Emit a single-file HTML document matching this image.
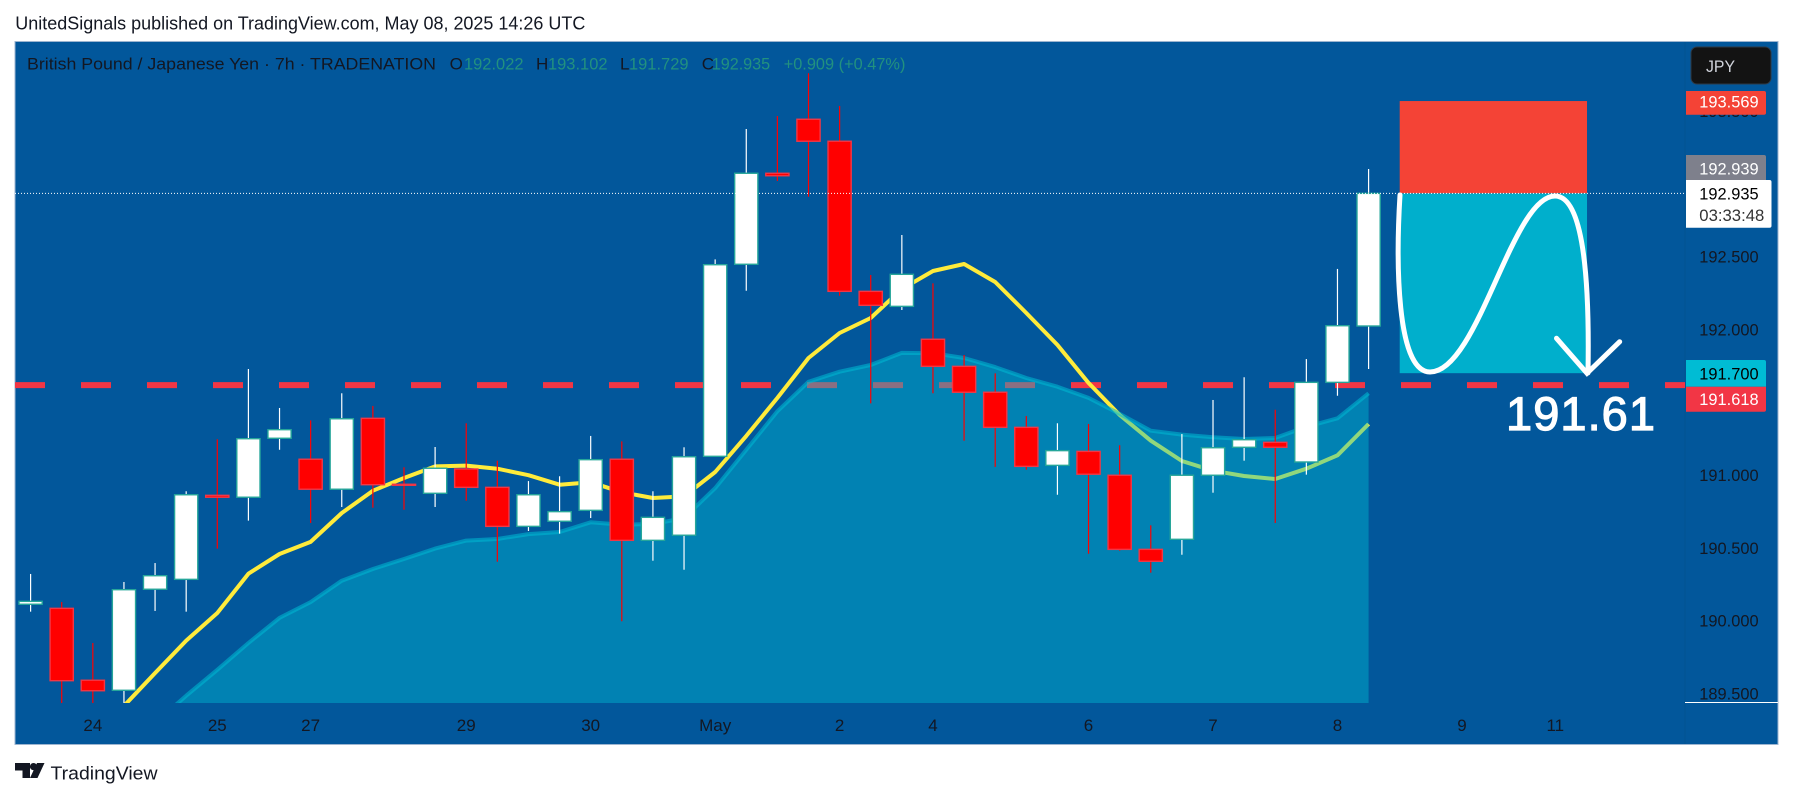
<!DOCTYPE html>
<html lang="en">
<head>
<meta charset="utf-8">
<title>GBP/JPY chart</title>
<style>
html,body{margin:0;padding:0;background:#fff;width:1793px;height:798px;overflow:hidden}
svg{display:block}
text{font-family:"Liberation Sans",sans-serif}
</style>
</head>
<body>
<svg id="chart" xmlns="http://www.w3.org/2000/svg" width="1793" height="798" viewBox="0 0 1793 798">
  <defs>
    <clipPath id="plot-clip"><rect x="15" y="41" width="1670" height="662"/></clipPath>
  </defs>
  <rect x="0" y="0" width="1793" height="798" fill="#ffffff"/>
  <text x="15.3" y="29.5" font-size="18" fill="#131722" textLength="570" lengthAdjust="spacingAndGlyphs">UnitedSignals published on TradingView.com, May 08, 2025 14:26 UTC</text>
  <rect x="15" y="41.5" width="1763" height="703" fill="#02579b" stroke="#9db5d0" stroke-width="1"/>
  <line x1="1685" y1="42" x2="1685" y2="744" stroke="#025392" stroke-width="1"/>
  <line x1="1685" y1="702.5" x2="1778" y2="702.5" stroke="#ffffff" stroke-width="1"/>

  <g id="price-ticks"></g>
  <g id="time-ticks"></g>

  <g clip-path="url(#plot-clip)">
    <g id="position"></g>
    <line id="level-line" x1="15" x2="1685" stroke="#f23645" stroke-width="6" stroke-dasharray="30 36"/>
    <path id="yellow-line" fill="none" stroke="#ffeb3b" stroke-width="4" stroke-linejoin="round"/>
    <path id="area-fill" fill="rgba(0,188,212,0.43)"/>
    <path id="area-line" fill="none" stroke="#00bcd4" stroke-opacity="0.55" stroke-width="4" stroke-linejoin="round"/>
    <g id="candles"></g>
    <line id="last-price-line" x1="15" x2="1685" stroke="#ffffff" stroke-width="1" stroke-dasharray="1 2"/>
    <g>
      <path d="M1400 195 C1396 260 1396 372 1430 372 C1478 372 1512 196 1555 196 C1580 196 1590 260 1588 373" fill="none" stroke="#ffffff" stroke-width="5" stroke-linecap="round"/>
      <path d="M1556.5 338.3 L1587 373.3 L1619.7 341.7" fill="none" stroke="#ffffff" stroke-width="5" stroke-linecap="round" stroke-linejoin="miter"/>
    </g>
    <text x="1506" y="430" font-size="47" fill="#ffffff" stroke="#ffffff" stroke-width="1.2" textLength="149" lengthAdjust="spacing">191.61</text>
  </g>

  <g font-size="17">
    <text x="27" y="69.5" fill="#131722" textLength="409" lengthAdjust="spacingAndGlyphs">British Pound / Japanese Yen · 7h · TRADENATION</text>
    <text x="449.6" y="69.5" fill="#131722">O</text>
    <text x="464" y="69.5" fill="#22917f" textLength="59.5" lengthAdjust="spacingAndGlyphs">192.022</text>
    <text x="536" y="69.5" fill="#131722">H</text>
    <text x="548" y="69.5" fill="#22917f" textLength="59.5" lengthAdjust="spacingAndGlyphs">193.102</text>
    <text x="620" y="69.5" fill="#131722">L</text>
    <text x="629" y="69.5" fill="#22917f" textLength="59.5" lengthAdjust="spacingAndGlyphs">191.729</text>
    <text x="701.8" y="69.5" fill="#131722">C</text>
    <text x="711.7" y="69.5" fill="#22917f" textLength="58.5" lengthAdjust="spacingAndGlyphs">192.935</text>
    <text x="783.7" y="69.5" fill="#22917f" textLength="121.7" lengthAdjust="spacingAndGlyphs">+0.909 (+0.47%)</text>
  </g>

  <g>
    <rect x="1691" y="47" width="80" height="37" rx="6" fill="#131313" stroke="#2e3a46" stroke-width="1"/>
    <text x="1706" y="72" font-size="17" fill="#d1d4dc" textLength="29" lengthAdjust="spacingAndGlyphs">JPY</text>
  </g>

  <g font-size="17">
    <path d="M1686 91H1764a2 2 0 0 1 2 2V112.7a2 2 0 0 1 -2 2H1686z" fill="#f44336"/>
    <text x="1699.3" y="107.5" fill="#ffffff" textLength="59.3" lengthAdjust="spacingAndGlyphs">193.569</text>
    <path d="M1686 155H1764a2 2 0 0 1 2 2V180H1686z" fill="#7e808c"/>
    <text x="1699.3" y="174.5" fill="#ffffff" textLength="59.3" lengthAdjust="spacingAndGlyphs">192.939</text>
    <path d="M1686 180H1769.5a2 2 0 0 1 2 2V225.7a2 2 0 0 1 -2 2H1686z" fill="#ffffff"/>
    <text x="1699.3" y="199.5" fill="#000000" textLength="59.3" lengthAdjust="spacingAndGlyphs">192.935</text>
    <text x="1699.3" y="221" fill="#333333" textLength="65" lengthAdjust="spacingAndGlyphs">03:33:48</text>
    <path d="M1686 360H1764a2 2 0 0 1 2 2V386.7H1686z" fill="#00bcd4"/>
    <text x="1699.3" y="379.5" fill="#000000" textLength="59.3" lengthAdjust="spacingAndGlyphs">191.700</text>
    <path d="M1686 386.7H1766V409.7a2 2 0 0 1 -2 2H1686z" fill="#f23645"/>
    <text x="1699.3" y="405" fill="#ffffff" textLength="59.3" lengthAdjust="spacingAndGlyphs">191.618</text>
  </g>

  <g>
    <path d="M15 763H30V778H22.5V770.5H15Z" fill="#131722"/>
    <circle cx="33.5" cy="766.6" r="3.6" fill="#131722"/>
    <path d="M37 763H44.5L37.5 778H30Z" fill="#131722"/>
    <text x="50.5" y="779.5" font-size="18" fill="#131722" textLength="107" lengthAdjust="spacingAndGlyphs">TradingView</text>
  </g>
</svg>

<script>
// ---- chart data ----
const opens = [190.113,190.085,189.591,189.522,190.216,190.284,190.861,190.848,191.253,191.109,190.903,191.390,190.937,190.875,191.042,190.916,190.648,190.683,190.758,191.109,190.552,190.587,191.129,192.448,193.073,193.444,193.293,192.262,192.159,191.933,191.747,191.569,191.328,191.067,191.163,190.999,190.490,190.559,190.999,191.191,191.225,191.090,191.637,192.024];
const highs = [190.321,190.128,189.847,190.266,190.396,190.889,191.246,191.729,191.461,191.376,191.562,191.475,191.054,191.193,191.356,191.099,190.959,190.992,191.269,191.232,190.889,191.191,192.482,193.377,193.466,193.760,193.535,192.374,192.649,192.317,191.825,191.699,191.406,191.356,191.351,191.205,190.655,191.282,191.516,191.672,191.449,191.797,192.416,193.102];
const lows = [190.062,189.421,189.421,189.421,190.067,190.062,190.495,190.687,191.174,190.671,190.781,190.776,190.762,190.781,190.824,190.405,190.616,190.598,190.705,189.996,190.412,190.350,191.129,192.266,193.020,192.912,192.232,191.493,192.134,191.562,191.236,191.056,191.037,190.865,190.460,190.481,190.330,190.453,190.879,191.099,190.671,191.003,191.545,191.729];
const closes = [190.133,189.588,189.519,190.213,190.309,190.865,190.848,191.250,191.312,190.903,191.387,190.934,190.932,191.047,190.916,190.648,190.865,190.749,191.106,190.552,190.710,191.126,192.445,193.073,193.056,193.293,192.262,192.166,192.379,191.747,191.569,191.328,191.060,191.168,191.006,190.490,190.408,190.999,191.188,191.243,191.191,191.637,192.026,192.935];
// fast average values, bar 3 onward
const fastAverageStart = 3;
const fastAverage = [189.414,189.641,189.863,190.053,190.323,190.458,190.541,190.740,190.893,190.980,191.060,191.065,191.044,190.999,190.934,190.951,190.882,190.843,190.854,191.021,191.269,191.530,191.804,191.976,192.079,192.278,192.402,192.450,192.326,192.113,191.894,191.633,191.413,191.236,191.097,191.030,190.994,190.973,191.044,191.136,191.351];
// slow average values, bar 4 onward
const slowAverageStart = 4;
const slowAverage = [189.297,189.485,189.663,189.847,190.019,190.128,190.275,190.355,190.424,190.495,190.550,190.561,190.595,190.609,190.676,190.659,190.664,190.705,190.911,191.174,191.438,191.641,191.710,191.756,191.839,191.837,191.804,191.742,191.667,191.607,191.530,191.420,191.305,191.278,191.260,191.248,191.255,191.332,191.390,191.562];
const priceTicks = [193.5,193,192.5,192,191.5,191,190.5,190,189.5];
const timeLabels = ["24","25","27","29","30","May","2","4","6","7","8","9","11"];
const timeLabelBars = [2,6,9,14,18,22,26,29,34,38,42,46,49];
const stopPrice = 193.569;
const entryPrice = 192.935;
const targetPrice = 191.700;
const levelPrice = 191.618;
const lastPrice = 192.935;
const positionStartBar = 44;
const positionEndBar = 50.02;

// ---- axis functions ----
const NS = 'http://www.w3.org/2000/svg';
function xScale(i){ return 30.6 + 31.116 * i; }
function yScale(p){ return 256.7 + (192.5 - p) * 145.6; }
function make(tag, attrs, parent){
  const el = document.createElementNS(NS, tag);
  for (const k in attrs) el.setAttribute(k, attrs[k]);
  parent.appendChild(el);
  return el;
}

// price ticks
const priceGroup = document.getElementById('price-ticks');
priceTicks.forEach(function(p){
  const t = make('text', {x:1699.3, y:yScale(p)+6, 'font-size':17, fill:'#131722', textLength:59.3, lengthAdjust:'spacingAndGlyphs'}, priceGroup);
  
  
  t.textContent = p.toFixed(3);
});

// time ticks
const timeGroup = document.getElementById('time-ticks');
timeLabels.forEach(function(label, i){
  const t = make('text', {x:xScale(timeLabelBars[i]), y:731, 'font-size':17, fill:'#131722', 'text-anchor':'middle'}, timeGroup);
  
  
  t.textContent = label;
});

// position tool
const positionGroup = document.getElementById('position');
const posX = xScale(positionStartBar);
const posW = xScale(positionEndBar) - posX;
const stopRect = make('rect', {x:posX, y:yScale(stopPrice), width:posW, height:yScale(entryPrice)-yScale(stopPrice), fill:'#f44336'}, positionGroup);


const targetRect = make('rect', {x:posX, y:yScale(entryPrice), width:posW, height:yScale(targetPrice)-yScale(entryPrice), fill:'#00afcc'}, positionGroup);



// horizontal lines
const levelLine = document.getElementById('level-line');
levelLine.setAttribute('y1', yScale(levelPrice));
levelLine.setAttribute('y2', yScale(levelPrice));
const lastLine = document.getElementById('last-price-line');
lastLine.setAttribute('y1', yScale(lastPrice));
lastLine.setAttribute('y2', yScale(lastPrice));

// averages
function linePath(values, start){
  return values.map(function(v, i){
    return (i ? 'L' : 'M') + xScale(start + i).toFixed(1) + ' ' + yScale(v).toFixed(1);
  }).join(' ');
}
document.getElementById('yellow-line').setAttribute('d', linePath(fastAverage, fastAverageStart));
const slowD = linePath(slowAverage, slowAverageStart);
document.getElementById('area-line').setAttribute('d', slowD);
const lastSlowX = xScale(slowAverageStart + slowAverage.length - 1).toFixed(1);
const firstSlowX = xScale(slowAverageStart).toFixed(1);
document.getElementById('area-fill').setAttribute('d', slowD + ' L' + lastSlowX + ' 760 L' + firstSlowX + ' 760 Z');

// candles
const candleGroup = document.getElementById('candles');
opens.forEach(function(o, i){
  const c = closes[i];
  const up = c >= o;
  const cx = xScale(i);
  const g = make('g', {}, candleGroup);
  
  
  const wick = make('line', {x1:cx, x2:cx, y1:yScale(highs[i]), y2:yScale(lows[i]), stroke: up ? '#ffffff' : '#ff0000', 'stroke-width':1.2}, g);
  
  
  const top = yScale(Math.max(o, c));
  const bottom = yScale(Math.min(o, c));
  const body = make('rect', {x:cx-11.6, y:top, width:23.2, height:Math.max(bottom-top, 1), fill: up ? '#ffffff' : '#ff0000', stroke: up ? '#26a69a' : '#f23645', 'stroke-width':1.4}, g);
  
  
});
</script>
</body>
</html>
